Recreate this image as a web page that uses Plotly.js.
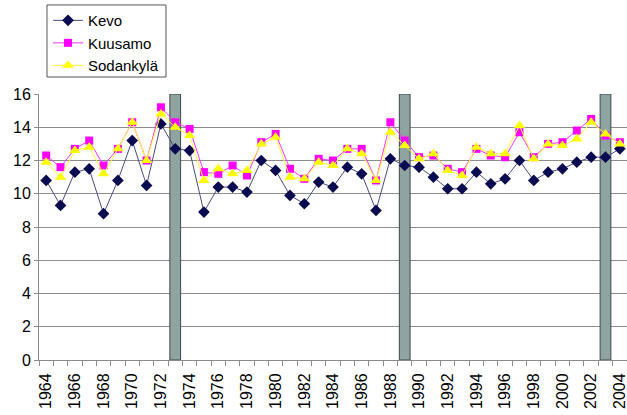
<!DOCTYPE html>
<html>
<head>
<meta charset="utf-8">
<script src="https://cdn.plot.ly/plotly-3.0.1.min.js"></script>
<style>html,body{margin:0;padding:0;background:#fff;}#chart{width:627px;height:415px;}</style>
</head>
<body>
<div id="chart"></div>
<script>
const years = [];
for (let y = 1964; y <= 2004; y++) years.push(y);

const kevo = [10.8, 9.3, 11.3, 11.5, 8.8, 10.8, 13.2, 10.5, 14.2, 12.7,
  12.6, 8.9, 10.4, 10.4, 10.1, 12.0, 11.4, 9.9, 9.4, 10.7,
  10.4, 11.6, 11.2, 9.0, 12.1, 11.7, 11.6, 11.0, 10.3, 10.3,
  11.3, 10.6, 10.9, 12.0, 10.8, 11.3, 11.5, 11.9, 12.2, 12.2, 12.7];
const kuusamo = [12.3, 11.6, 12.7, 13.2, 11.7, 12.7, 14.3, 12.0, 15.2, 14.3,
  13.9, 11.3, 11.2, 11.7, 11.1, 13.1, 13.6, 11.5, 10.9, 12.1,
  12.0, 12.7, 12.7, 10.8, 14.3, 13.2, 12.2, 12.3, 11.5, 11.3,
  12.7, 12.3, 12.2, 13.7, 12.2, 13.0, 13.1, 13.8, 14.5, 13.5, 13.1];
const sodankyla = [11.9, 11.0, 12.6, 12.8, 11.2, 12.7, 14.3, 12.0, 14.8, 14.0,
  13.5, 10.8, 11.5, 11.2, 11.4, 13.0, 13.4, 11.0, 10.9, 11.9,
  11.7, 12.7, 12.4, 10.8, 13.7, 12.9, 12.1, 12.4, 11.4, 11.1,
  12.8, 12.4, 12.4, 14.1, 12.1, 13.0, 12.9, 13.3, 14.3, 13.6, 13.0];
const barYears = [1973, 1989, 2003];
const barValues = [16, 16, 16];
const tickYears = [1964,1966,1968,1970,1972,1974,1976,1978,1980,1982,1984,1986,1988,1990,1992,1994,1996,1998,2000,2002,2004];
const tickLabels = tickYears.map(String);

const data = [
  {type:'bar', x:barYears, y:barValues, width:0.75, showlegend:false, hoverinfo:'skip',
   marker:{color:'#8fa3a0', line:{color:'#3c4a48', width:1}}},
  {type:'scatter', mode:'lines+markers', name:'Kevo', x:years, y:kevo, cliponaxis:false,
   line:{color:'#4a4a82', width:1},
   marker:{symbol:'diamond', size:9, color:'#0a0a50'}},
  {type:'scatter', mode:'lines+markers', name:'Kuusamo', x:years, y:kuusamo, cliponaxis:false,
   line:{color:'#ff33ff', width:1},
   marker:{symbol:'square', size:8, color:'#ff00ff'}},
  {type:'scatter', mode:'lines+markers', name:'Sodankylä', x:years, y:sodankyla, cliponaxis:false,
   line:{color:'#ffff33', width:1},
   marker:{symbol:'triangle-up', size:10, color:'#ffff00'}}
];

const layout = {
  width:627, height:415,
  margin:{l:39, r:0, t:94, b:55},
  paper_bgcolor:'#ffffff', plot_bgcolor:'#ffffff',
  font:{family:'Liberation Sans, Arial, sans-serif', size:16, color:'#000'},
  showlegend:true,
  legend:{x:0.0153, y:1.338, xanchor:'left', yanchor:'top', bgcolor:'rgba(0,0,0,0)',
    borderwidth:0, font:{size:15, color:'#000'}, tracegroupgap:0},
  shapes:[{type:'rect', xref:'paper', yref:'paper', x0:0.0136, x1:0.216, y0:1.0639, y1:1.3346,
    line:{color:'#555555', width:1}, fillcolor:'rgba(0,0,0,0)'}],
  xaxis:{range:[1963.5, 2004.5], tickmode:'array', tickvals:tickYears, ticktext:tickLabels,
    tickangle:-90, ticks:'', showgrid:false, zeroline:false, ticklabeloverflow:'allow',
    ticklabelstandoff:6,
    showline:true, linecolor:'#8c8c8c', linewidth:1,
    tickfont:{size:16, color:'#000'},
    minor:{tickmode:'linear', tick0:1963.5, dtick:1, ticks:'outside', ticklen:5, tickcolor:'#8c8c8c', showgrid:false}},
  yaxis:{range:[0,16], dtick:2, tick0:0, showgrid:true, gridcolor:'#8c8c8c', gridwidth:1,
    zeroline:false, showline:true, linecolor:'#8c8c8c', linewidth:1,
    ticks:'outside', ticklen:4, tickcolor:'#8c8c8c', tickfont:{size:16, color:'#000'}},
  bargap:0
};

Plotly.newPlot('chart', data, layout, {displayModeBar:false, staticPlot:true});
</script>
</body>
</html>
